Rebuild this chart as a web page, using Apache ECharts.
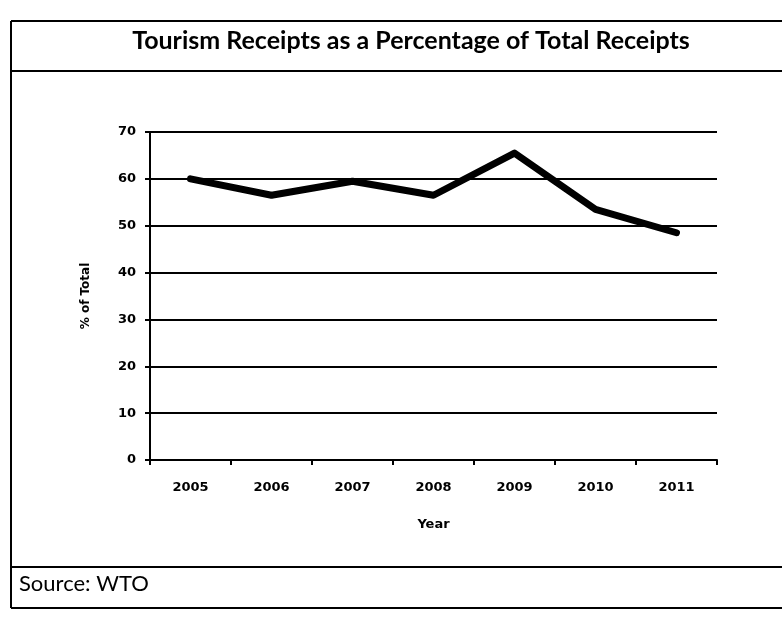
<!DOCTYPE html>
<html>
<head>
<meta charset="utf-8">
<script src="https://cdn.jsdelivr.net/npm/echarts@6/dist/echarts.min.js"></script>
<style>
html,body{margin:0;padding:0;background:#fff;}
#chart{width:782px;height:617px;}
</style>
</head>
<body>
<div id="chart"></div>
<script>
const years = ['2005','2006','2007','2008','2009','2010','2011'];
const receiptsPct = [60, 56.5, 59.5, 56.5, 65.5, 53.5, 48.5];
const yTicks = [0, 10, 20, 30, 40, 50, 60, 70];
const chartTitle = 'Tourism Receipts as a Percentage of Total Receipts';
const sourceText = 'Source: WTO';

const chart = echarts.init(document.getElementById('chart'));
chart.setOption({
  backgroundColor: '#ffffff',
  animation: false,
  title: {
    text: chartTitle,
    left: 406, top: 23, textAlign: 'center',
    textStyle: { fontFamily: 'Lato', fontWeight: 'bold', fontSize: 25, color: '#000' }
  },
  grid: { left: 150, right: 65, top: 132, bottom: 157, containLabel: false },
  xAxis: {
    type: 'category',
    data: years,
    boundaryGap: true,
    name: 'Year',
    nameLocation: 'middle',
    nameGap: 58,
    nameTextStyle: { fontFamily: 'DejaVu Sans', fontWeight: 'bold', fontSize: 13, color: '#000' },
    axisLine: { lineStyle: { color: '#000', width: 2 } },
    axisTick: { show: true, alignWithLabel: false, length: 5, lineStyle: { color: '#000', width: 2 } },
    axisLabel: { fontFamily: 'DejaVu Sans', fontWeight: 'bold', fontSize: 13, color: '#000', margin: 21 },
    splitLine: { show: false }
  },
  yAxis: {
    type: 'value',
    min: yTicks[0], max: yTicks[yTicks.length - 1], interval: 10,
    name: '% of Total',
    nameLocation: 'middle',
    nameGap: 58,
    nameRotate: 90,
    nameTextStyle: { fontFamily: 'DejaVu Sans', fontWeight: 'bold', fontSize: 12, color: '#000' },
    axisLine: { show: true, lineStyle: { color: '#000', width: 2 } },
    axisTick: { show: true, inside: false, length: 5, lineStyle: { color: '#000', width: 2 } },
    axisLabel: { fontFamily: 'DejaVu Sans', fontWeight: 'bold', fontSize: 13, color: '#000', margin: 14 },
    splitLine: { show: true, lineStyle: { color: '#000', width: 1.8 } }
  },
  series: [{
    type: 'line',
    data: receiptsPct,
    symbol: 'none',
    lineStyle: { color: '#000', width: 7, cap: 'round', join: 'round' }
  }],
  graphic: [
    { type: 'line', shape: { x1: 11, y1: 21, x2: 782, y2: 21 }, style: { stroke: '#000', lineWidth: 2 } },
    { type: 'line', shape: { x1: 11, y1: 71, x2: 782, y2: 71 }, style: { stroke: '#000', lineWidth: 2 } },
    { type: 'line', shape: { x1: 11, y1: 567, x2: 782, y2: 567 }, style: { stroke: '#000', lineWidth: 2 } },
    { type: 'line', shape: { x1: 11, y1: 608, x2: 782, y2: 608 }, style: { stroke: '#000', lineWidth: 2 } },
    { type: 'line', shape: { x1: 11, y1: 21, x2: 11, y2: 608 }, style: { stroke: '#000', lineWidth: 2 } },
    { type: 'text', left: 19, top: 573, style: { text: sourceText, fontFamily: 'Lato', fontSize: 22, fill: '#000' } }
  ]
});
</script>
</body>
</html>
